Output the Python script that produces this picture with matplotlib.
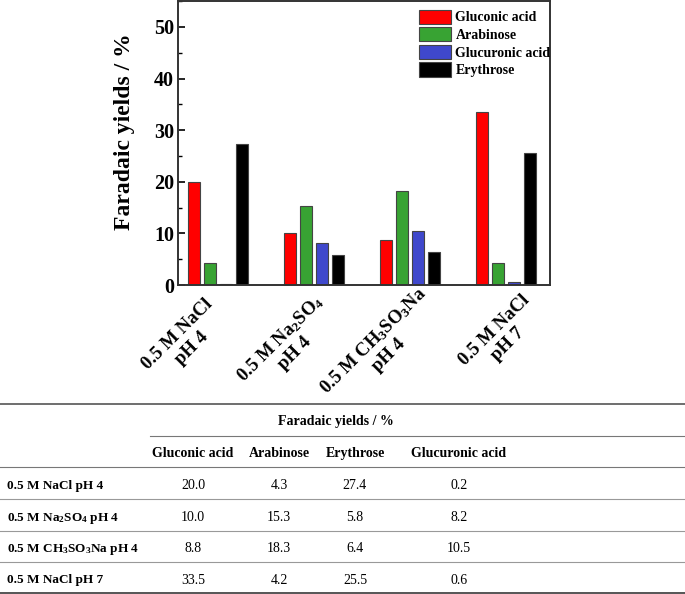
import matplotlib
matplotlib.use("Agg")
import matplotlib.pyplot as plt
import matplotlib.transforms as mtransforms
import numpy as np
from matplotlib.lines import Line2D
from matplotlib.ticker import MultipleLocator

plt.rcParams["font.family"] = ["Liberation Serif", "DejaVu Serif"]
plt.rcParams["mathtext.default"] = "regular"

# data
tick_labels = ["0.5 M NaCl\npH 4", "0.5 M Na$_2$SO$_4$\npH 4",
               "0.5 M CH$_3$SO$_3$Na\npH 4", "0.5 M NaCl\npH 7"]
row_labels = ["0.5 M NaCl pH 4", "0.5 M Na$_2$SO$_4$ pH 4",
              "0.5 M CH$_3$SO$_3$Na pH 4", "0.5 M NaCl pH 7"]
gluconic = [20.0, 10.0, 8.8, 33.5]
arabinose = [4.3, 15.3, 18.3, 4.2]
erythrose = [27.4, 5.8, 6.4, 25.5]
glucuronic = [0.2, 8.2, 10.5, 0.6]

bar_series = [("Gluconic acid", gluconic, "#ff0000"),
              ("Arabinose", arabinose, "#38a333"),
              ("Glucuronic acid", glucuronic, "#3f48cc"),
              ("Erythrose", erythrose, "#000000")]
table_cols = [("Gluconic acid", gluconic), ("Arabinose", arabinose),
              ("Erythrose", erythrose), ("Glucuronic acid", glucuronic)]

fig = plt.figure(figsize=(6.85, 5.94), dpi=100)

# ---- bar chart ----
ax = fig.add_axes([0.26, 0.52, 0.543, 0.478])
x = np.arange(1, len(tick_labels) + 1)
w = 0.125
step = 0.167
for i, (name, vals, col) in enumerate(bar_series):
    ax.bar(x + (i - 1.5) * step, vals, w, color=col, edgecolor="#444444",
           linewidth=0.8, label=name)

ax.set_xlim(0.58, 4.46)
ax.set_ylim(0, 55)
ax.yaxis.set_major_locator(MultipleLocator(10))
ax.yaxis.set_minor_locator(MultipleLocator(5))
ax.tick_params(axis="y", which="major", direction="in", length=5, width=1.2,
               labelsize=14.5, pad=3)
ax.tick_params(axis="y", which="minor", direction="in", length=3, width=1.0)
ax.tick_params(axis="x", length=0, pad=3)
for lab in ax.get_yticklabels():
    lab.set_fontweight("bold")
ax.set_xticks(x)
ax.set_xticklabels(tick_labels, rotation=45, ha="right", va="top",
                   rotation_mode="anchor", fontsize=13.5, fontweight="bold",
                   multialignment="center")
# labels in the original are placed by hand, nudge each one (pixels)
nudges = [(-14, -6), (-1, -2), (7, 6), (15, -2)]
for lab, (dx, dy) in zip(ax.get_xticklabels(), nudges):
    off = mtransforms.ScaledTranslation(dx / 100, dy / 100, fig.dpi_scale_trans)
    lab.set_transform(lab.get_transform() + off)
ax.set_ylabel("Faradaic yields / %", fontsize=17, fontweight="bold")
ax.yaxis.set_label_coords(-0.115, 0.54)
for sp in ax.spines.values():
    sp.set_linewidth(1.4)
    sp.set_color("#333333")

leg = ax.legend(loc="upper right", frameon=False,
                bbox_to_anchor=(1.02, 0.995),
                prop={"weight": "bold", "size": 10}, handlelength=2.3,
                handleheight=1.2, labelspacing=0.2, handletextpad=0.35,
                borderaxespad=0.2, borderpad=0.3)

# ---- table ----
tb = fig.add_axes([0, 0, 1, 191 / 594])
tb.set_xlim(0, 685)
tb.set_ylim(594, 403)
tb.axis("off")

def hline(y, x0=0, x1=685, lw=0.8, c="#777777"):
    tb.add_line(Line2D([x0, x1], [y, y], lw=lw, color=c))

hline(404, lw=1.2, c="#555555")
hline(436, x0=150)
hline(467)
for y in [499, 531, 562]:
    hline(y, c="#999999")
hline(593, lw=1.4, c="#555555")

col_x = [193, 279, 355, 459]
tb.text(336, 420, "Faradaic yields / %", ha="center", va="center_baseline",
        fontsize=10, fontweight="bold")
for cx, (name, _) in zip(col_x, table_cols):
    tb.text(cx, 452, name, ha="center", va="center_baseline", fontsize=10,
            fontweight="bold")
row_y = [484, 516, 547, 579]
for r, (ry, lab) in enumerate(zip(row_y, row_labels)):
    tb.text(7, ry, lab, ha="left", va="center_baseline", fontsize=9.5,
            fontweight="bold")
    for cx, (_, vals) in zip(col_x, table_cols):
        tb.text(cx, ry, f"{vals[r]:.1f}", ha="center", va="center_baseline",
                fontsize=10)

fig.savefig("out.png", dpi=100)
